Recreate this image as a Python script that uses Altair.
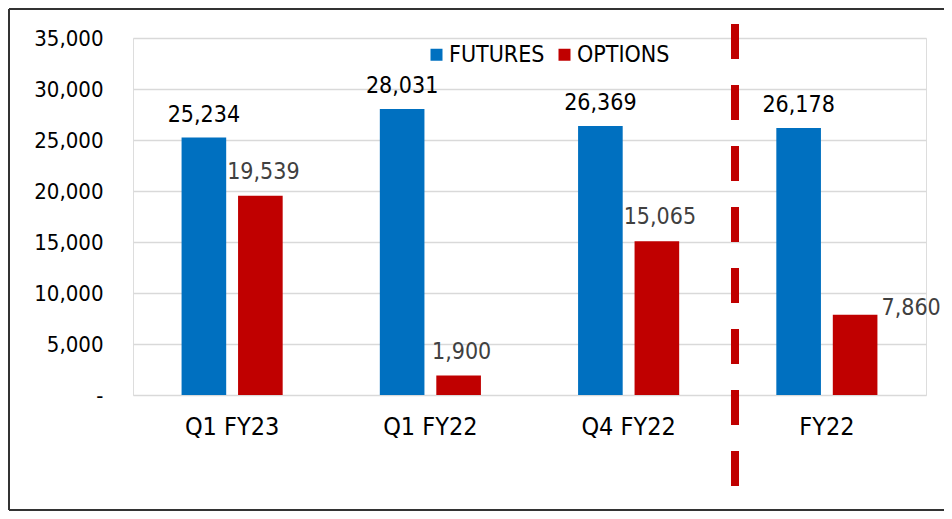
import altair as alt
import pandas as pd

categories = ["Q1 FY23", "Q1 FY22", "Q4 FY22", "FY22"]
series = ["FUTURES", "OPTIONS"]
futures = [25234, 28031, 26369, 26178]
options = [19539, 1900, 15065, 7860]
y_ticks = [0, 5000, 10000, 15000, 20000, 25000, 30000, 35000]
colors = ["#0070C0", "#C00000"]

rows = []
for c, f, o in zip(categories, futures, options):
    rows.append({"cat": c, "series": "FUTURES", "value": f})
    rows.append({"cat": c, "series": "OPTIONS", "value": o})
df = pd.DataFrame(rows)

FONT = "DejaVu Sans Condensed, Liberation Sans Narrow, DejaVu Sans"

x = alt.X(
    "cat:N", sort=categories,
    scale=alt.Scale(paddingInner=0, paddingOuter=0),
    axis=alt.Axis(title=None, labelAngle=0, labelFontSize=25, labelFont=FONT,
                  labelColor="#000000", labelPadding=19, domain=False,
                  ticks=False, grid=False),
)
xo = alt.XOffset("series:N", sort=series,
                 scale=alt.Scale(paddingInner=0.21, paddingOuter=0.86))
y = alt.Y(
    "value:Q",
    scale=alt.Scale(domain=[0, 35000], nice=False),
    axis=alt.Axis(title=None, values=y_ticks,
                  labelExpr="datum.value == 0 ? '-\u2007\u2009' : format(datum.value, ',')",
                  labelFontSize=22, labelFont=FONT, labelColor="#000000",
                  labelPadding=30, domain=False, ticks=False,
                  gridColor="#D9D9D9", gridWidth=1.5),
)
color = alt.Color(
    "series:N", sort=series,
    scale=alt.Scale(domain=series, range=colors),
    legend=alt.Legend(title=None, orient="none", legendX=292, legendY=5,
                      direction="horizontal", symbolType="square",
                      symbolSize=144, symbolStrokeWidth=0, labelFontSize=23,
                      labelFont=FONT, labelColor="#000000", columnPadding=8,
                      labelOffset=1, padding=0),
)

base = alt.Chart(df)
bars = base.mark_bar().encode(x=x, xOffset=xo, y=y, color=color)

fut_labels = base.mark_text(baseline="alphabetic", dy=-16, fontSize=23, font=FONT,
                            color="#000000").encode(
    x=x, xOffset=xo, y=y, text=alt.Text("value:Q", format=",")
).transform_filter("datum.series == 'FUTURES'")

opt_labels = base.mark_text(baseline="alphabetic", dx=3, dy=-17, fontSize=23, font=FONT,
                            color="#404040").encode(
    x=x, xOffset=xo, y=y, text=alt.Text("value:Q", format=",")
).transform_filter("datum.series == 'OPTIONS' && datum.cat != 'FY22'")

label_side = base.mark_text(baseline="alphabetic", dx=56, dy=0, fontSize=23, font=FONT,
                            color="#404040").encode(
    x=x, xOffset=xo, y=y, text=alt.Text("value:Q", format=",")
).transform_filter("datum.cat == 'FY22' && datum.series == 'OPTIONS'")

one = alt.Chart(pd.DataFrame({"a": [0]}))
divider = one.mark_rule(color="#C00000", strokeWidth=8, strokeDash=[35, 26]).encode(
    x=alt.value(602), y=alt.value(-14), y2=alt.value(470))
frame_top = one.mark_rule(color="#333333", strokeWidth=2).encode(
    x=alt.value(-124), x2=alt.value(811), y=alt.value(-29))
frame_left = one.mark_rule(color="#333333", strokeWidth=2).encode(
    x=alt.value(-124), y=alt.value(-29), y2=alt.value(472))
frame_bottom = one.mark_rule(color="#333333", strokeWidth=2).encode(
    x=alt.value(-124), x2=alt.value(811), y=alt.value(472))

chart = alt.layer(bars, fut_labels, opt_labels, label_side, divider,
                  frame_top, frame_left, frame_bottom).properties(
    width=793, height=357,
    padding={"left": 125, "top": 30, "right": 18, "bottom": 116},
    autosize=alt.AutoSizeParams(type="none"),
).configure_view(stroke=None).configure(background="white")

chart.save("out.html", embed_options={"renderer": "svg", "actions": False})
